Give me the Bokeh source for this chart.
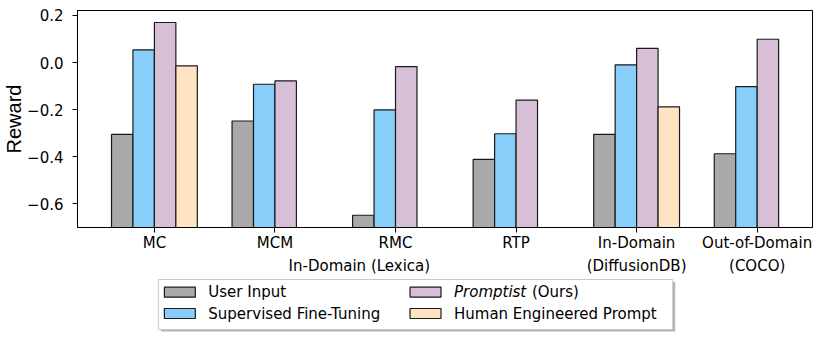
from bokeh.plotting import figure
from bokeh.models import (ColumnDataSource, Range1d, FixedTicker, CustomJSTickFormatter, LinearAxis, Title)
from bokeh.layouts import column
from bokeh.transform import dodge
from bokeh.core.properties import value
from bokeh.embed import file_html
from bokeh.resources import INLINE

nan = float("nan")

# ---- data ----
categories = ["MC", "MCM", "RMC", "RTP", "In-Domain", "Out-of-Domain"]
category_pos = [0, 1, 2, 3, 4, 5]
second_line = ["In-Domain (Lexica)", "(DiffusionDB)", "(COCO)"]
second_line_pos = [1.70, 4, 5]
user_input = [-0.305, -0.248, -0.648, -0.411, -0.305, -0.387]
supervised = [0.054, -0.092, -0.201, -0.302, -0.010, -0.102]
promptist = [0.170, -0.078, -0.017, -0.159, 0.060, 0.099]
human = [-0.014, nan, nan, nan, -0.188, nan]
series_names = ["User Input", "Supervised Fine-Tuning", "Promptist", "Human Engineered Prompt"]
series_colors = ["#a9a9a9", "#87cefa", "#d8bfd8", "#ffe4c4"]
y_ticks = [-0.6, -0.4, -0.2, 0.0, 0.2]

FONT = "DejaVu Sans"
BW = 0.178
LEFT, RIGHT = 76, 10

src = ColumnDataSource(dict(x=category_pos, s0=user_input, s1=supervised, s2=promptist, s3=human))

p = figure(width=822, height=278, output_backend="svg", toolbar_location=None,
           x_range=Range1d(-0.638, 5.459), y_range=Range1d(-0.7, 0.221),
           min_border_left=LEFT, min_border_right=RIGHT, min_border_top=10, min_border_bottom=51)
p.xgrid.visible = False
p.ygrid.visible = False
p.outline_line_color = "black"
p.outline_line_width = 1
p.background_fill_color = "white"
p.border_fill_color = "white"

offsets = [-1.5 * BW, -0.5 * BW, 0.5 * BW, 1.5 * BW]
for i, key in enumerate(["s0", "s1", "s2", "s3"]):
    p.vbar(x=dodge("x", offsets[i], range=p.x_range), top=key, bottom=-1.0, width=BW,
           source=src, fill_color=series_colors[i], line_color="#1a1a1a", line_width=1.2)

# x axis (first line of labels)
p.xaxis.ticker = FixedTicker(ticks=category_pos)
p.xaxis.formatter = CustomJSTickFormatter(args=dict(labels=categories), code="return labels[index];")
p.xaxis.major_tick_out = 5
p.xaxis.major_tick_in = 0
p.xaxis.minor_tick_line_color = None
p.xaxis.major_label_standoff = 1
p.xaxis.major_label_text_font = FONT
p.xaxis.major_label_text_font_size = "15px"
p.xaxis.major_label_text_color = "black"
p.xaxis.axis_line_color = "black"

# second line of x labels
ax2 = LinearAxis(ticker=FixedTicker(ticks=second_line_pos),
                 formatter=CustomJSTickFormatter(args=dict(labels=second_line), code="return labels[index];"))
ax2.axis_line_color = None
ax2.major_tick_line_color = None
ax2.minor_tick_line_color = None
ax2.major_tick_out = 0
ax2.major_tick_in = 0
ax2.major_label_standoff = 2
ax2.major_label_text_font = FONT
ax2.major_label_text_font_size = "15px"
ax2.major_label_text_color = "black"
p.add_layout(ax2, "below")

# y axis
p.yaxis.ticker = FixedTicker(ticks=y_ticks)
p.yaxis.formatter = CustomJSTickFormatter(code="return (tick < -1e-9 ? '\u2212' : '') + Math.abs(tick).toFixed(1);")
p.yaxis.major_tick_out = 5
p.yaxis.major_tick_in = 0
p.yaxis.minor_tick_line_color = None
p.yaxis.major_label_standoff = 9
p.yaxis.major_label_text_font = FONT
p.yaxis.major_label_text_font_size = "15px"
p.yaxis.major_label_text_color = "black"
p.yaxis.axis_line_color = "black"

ylab = Title(text="Reward", align="center", text_font="Liberation Sans", text_font_size="20px",
             text_font_style="normal", text_color="black", standoff=0)
p.add_layout(ylab, "left")

# ---- legend as its own small figure (frame aligned to main frame, page-pixel coords) ----
leg = figure(width=822, height=59, output_backend="svg", toolbar_location=None,
             x_range=Range1d(LEFT, 822 - RIGHT), y_range=Range1d(59, 0),
             x_axis_type=None, y_axis_type=None,
             min_border_left=LEFT, min_border_right=RIGHT, min_border_top=0, min_border_bottom=0)
leg.outline_line_color = None
leg.xgrid.visible = False
leg.ygrid.visible = False
leg.border_fill_color = "white"
leg.background_fill_color = "white"

leg.quad(left=[159.5], right=[674.5], top=[3.5], bottom=[53], fill_color="#b4b4b4", line_color=None)
leg.quad(left=[157], right=[672], top=[1], bottom=[51], fill_color="white", line_color="#c8c8c8", line_width=1)

col_patch_x = [163, 409]
col_text_x = [207, 453]
row_y = [13.7, 35]
for i, name in enumerate(series_names):
    c, r = divmod(i, 2)
    leg.quad(left=[col_patch_x[c]], right=[col_patch_x[c] + 31], top=[row_y[r] - 5], bottom=[row_y[r] + 5],
             fill_color=series_colors[i], line_color="#1a1a1a", line_width=1.2)
    if name == "Promptist":
        leg.text(x=[col_text_x[c]], y=[row_y[r]], text=[name], text_font=value(FONT),
                 text_font_size="15px", text_font_style="italic", text_baseline="middle", text_color="black")
        leg.text(x=[531], y=[row_y[r]], text=["(Ours)"], text_font=value(FONT),
                 text_font_size="15px", text_baseline="middle", text_color="black")
    else:
        leg.text(x=[col_text_x[c]], y=[row_y[r]], text=[name], text_font=value(FONT),
                 text_font_size="15px", text_baseline="middle", text_color="black")

layout = column(p, leg, spacing=0)
open("out.html", "w").write(file_html(layout, INLINE))
